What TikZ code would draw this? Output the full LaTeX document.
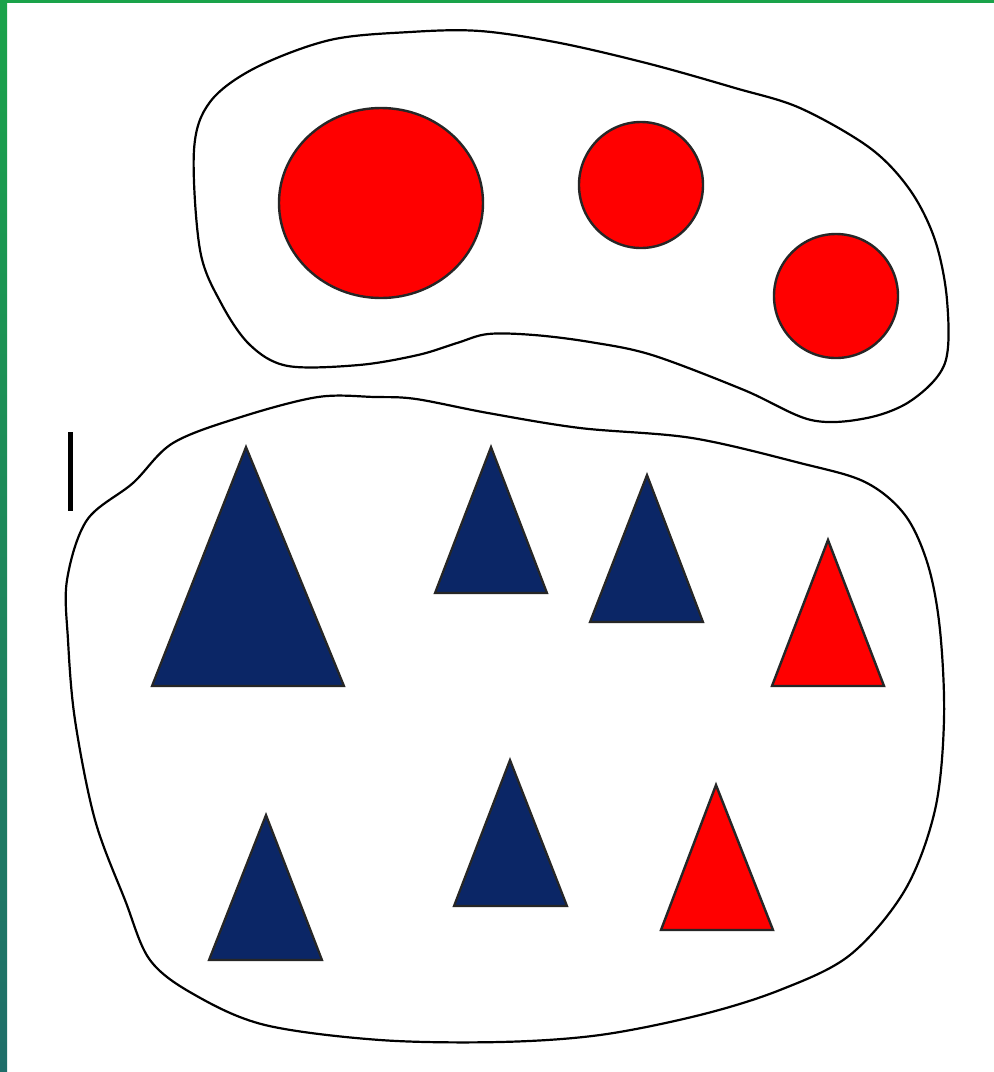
\documentclass[tikz,border=0pt]{standalone}
\definecolor{navy}{RGB}{11,38,102}
\definecolor{shred}{RGB}{255,0,0}
\definecolor{gtop}{RGB}{26,163,74}
\definecolor{gbot}{RGB}{31,110,106}
\tikzset{
  blob/.style={draw=black, line width=2.2pt, fill=white},
  redshape/.style={draw=black!85, line width=2.4pt, fill=shred},
  navyshape/.style={draw=black!85, line width=2.2pt, fill=navy, line join=miter},
  redtri/.style={draw=black!85, line width=2.4pt, fill=shred, line join=miter}
}
\begin{document}
\begin{tikzpicture}[x=1pt,y=-1pt]
\useasboundingbox (0,0) rectangle (994,1072);
\fill[white] (0,0) rectangle (994,1072);
% green frame
\shade[top color=gtop, bottom color=gbot] (0,0) rectangle (7,1072);
\fill[gtop] (0,0) rectangle (994,3);
% upper blob
\draw[blob] plot[smooth cycle, tension=0.55] coordinates {
 (194,150) (210,102) (255,68) (330,40) (410,32) (480,31) (560,43) (650,64)
 (735,88) (800,108) (870,148) (910,190) (935,240) (947,300) (945,363)
 (912,400) (867,418) (811,420) (744,390) (652,355) (590,342) (534,335)
 (488,334) (457,343) (418,355) (359,365) (288,366) (250,345) (221,303)
 (200,250) };
% lower blob
\draw[blob] plot[smooth cycle, tension=0.55] coordinates {
 (67,580) (87,520) (133,483) (173,443) (241,417) (318,397) (375,397)
 (416,399) (488,413) (580,428) (692,438) (800,463) (865,482) (905,515)
 (928,565) (940,630) (944,720) (935,810) (905,890) (850,955) (780,990)
 (700,1015) (600,1035) (500,1042) (380,1040) (265,1025) (195,995)
 (150,960) (125,900) (95,820) (75,720) (68,640) };
% bar mark
\draw[line width=5pt] (70,432) -- (70,511);
% circles
\draw[redshape] (381,203) ellipse [x radius=102, y radius=95];
\draw[redshape] (641,185) ellipse [x radius=62, y radius=63];
\draw[redshape] (836,296) ellipse [x radius=62, y radius=62];
% triangles
\draw[navyshape] (246,447) -- (344,686) -- (152,686) -- cycle;
\draw[navyshape] (491,447) -- (547,593) -- (435,593) -- cycle;
\draw[navyshape] (647,475) -- (703,622) -- (590,622) -- cycle;
\draw[redtri] (828,540) -- (884,686) -- (772,686) -- cycle;
\draw[navyshape] (266,815) -- (322,960) -- (209,960) -- cycle;
\draw[navyshape] (510,760) -- (567,906) -- (454,906) -- cycle;
\draw[redtri] (716,785) -- (773,930) -- (661,930) -- cycle;
\end{tikzpicture}
\end{document}
